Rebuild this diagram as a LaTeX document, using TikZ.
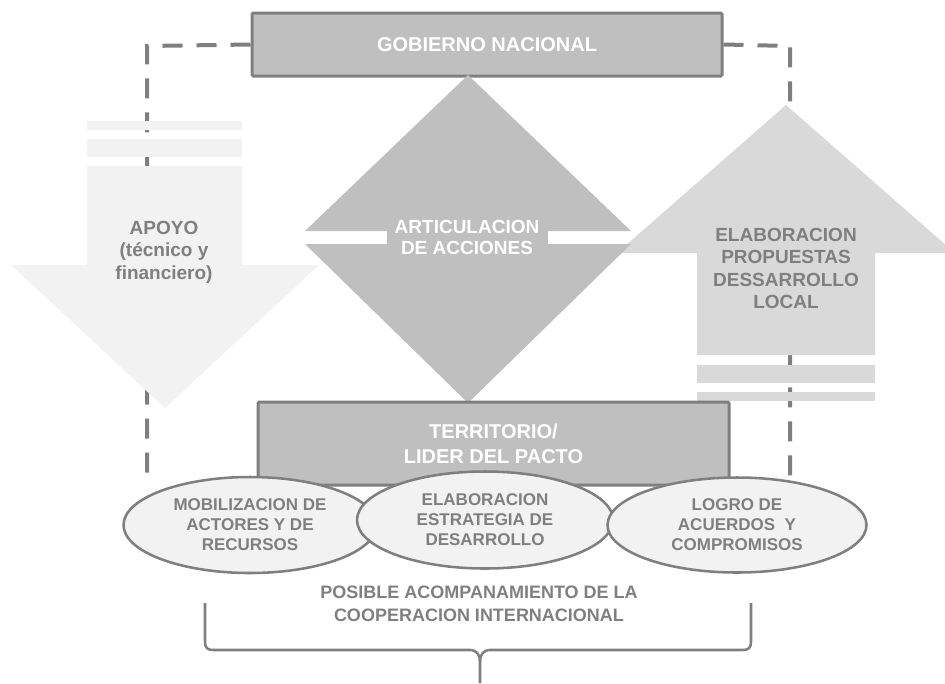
\documentclass[tikz,border=0pt]{standalone}
\usepackage{fontspec}
\setmainfont{Liberation Sans}
\usetikzlibrary{shapes.geometric}
\definecolor{dg}{HTML}{7F7F7F}
\definecolor{mg}{HTML}{BFBFBF}
\definecolor{lg}{HTML}{D9D9D9}
\definecolor{vlg}{HTML}{F2F2F2}
\begin{document}
\begin{tikzpicture}[x=0.75pt,y=-0.75pt,
  boxstyle/.style={draw=dg, line width=2.25pt, fill=mg, rounded corners=1pt, inner sep=0pt, text=white, align=center},
  dashline/.style={draw=dg, line width=3pt, dash pattern=on 15pt off 10.5pt},
  arrtext/.style={text=dg, align=center, font=\fontsize{14.25pt}{16.9pt}\selectfont\bfseries},
  elli/.style={ellipse, draw=dg, line width=1.9pt, fill=vlg, inner sep=0pt, text=dg, align=center, font=\fontsize{12.75pt}{15pt}\selectfont\bfseries},
  bracestyle/.style={draw=dg, line width=1.9pt}
]
\useasboundingbox (0,0) rectangle (945,683);
\clip (0,0) rectangle (945,683);

% top box
\node[boxstyle, minimum width=352.5pt, minimum height=47.25pt, font=\fontsize{15pt}{18pt}\selectfont\bfseries] (gob) at (487,44.5) {GOBIERNO NACIONAL};

% dashed connector
\coordinate (dl1) at (147,46);
\coordinate (dl2) at (147,482);
\coordinate (dr1) at (790,46);
\coordinate (dr2) at (790,478);
\draw[dashline] (gob.west) -- (dl1) -- (dl2);
\draw[dashline] (gob.east) -- (dr1) -- (dr2);

% left arrow (down)
\fill[vlg] (87,121) rectangle (242,130);
\fill[vlg] (87,139) rectangle (242,157);
\fill[vlg] (87,166) -- (242,166) -- (242,265) -- (319,265) -- (165,408) -- (11,265) -- (87,265) -- cycle;
\node[arrtext] (apoyo) at (164,252) {APOYO\\(técnico y\\financiero)};

% right arrow (up)
\fill[lg] (697,365) rectangle (875,383);
\fill[lg] (697,392) rectangle (875,401);
\fill[lg] (697,355) -- (697,253) -- (617,253) -- (786,105) -- (955,253) -- (875,253) -- (875,355) -- cycle;
\node[arrtext] (elab) at (786,268.5) {ELABORACION\\PROPUESTAS\\DESSARROLLO\\LOCAL};

% diamond split by a white band
\fill[mg] (468,75) -- (631,231) -- (305,231) -- cycle;
\fill[mg] (305,244) -- (631,244) -- (468,403) -- cycle;
\fill[mg] (387,222) rectangle (548,253);
\node[text=white, align=center, font=\fontsize{14.25pt}{15.75pt}\selectfont\bfseries] (artic) at (467,237.5) {ARTICULACION\\DE ACCIONES};

% territorio box
\node[boxstyle, minimum width=353.25pt, minimum height=62.25pt, font=\fontsize{15pt}{18.75pt}\selectfont\bfseries] (terr) at (493.5,443.5) {TERRITORIO/\\LIDER DEL PACTO};

% ellipses
\node[elli, minimum width=189.75pt, minimum height=72pt] (e1) at (250,525) {MOBILIZACION DE\\ACTORES Y DE\\RECURSOS};
\node[elli, minimum width=192pt, minimum height=72.75pt] (e2) at (485,520) {ELABORACION\\ESTRATEGIA DE\\DESARROLLO};
\node[elli, minimum width=194.25pt, minimum height=71.25pt] (e3) at (737,525) {LOGRO DE\\ACUERDOS\ \ Y\\COMPROMISOS};

% bottom text
\node[text=dg, align=center, font=\fontsize{13.5pt}{17.25pt}\selectfont\bfseries] (coop) at (479,603.5) {POSIBLE ACOMPANAMIENTO DE LA\\COOPERACION INTERNACIONAL};

% brace
\draw[bracestyle] (205,603) -- (205,641) .. controls (205,648) and (207,650) .. (214,650) -- (470,650) .. controls (477,650) and (480,655) .. (480,662) -- (480,683);
\draw[bracestyle] (751,603) -- (751,641) .. controls (751,648) and (749,650) .. (742,650) -- (490,650) .. controls (483,650) and (480,655) .. (480,662);
\end{tikzpicture}
\end{document}
